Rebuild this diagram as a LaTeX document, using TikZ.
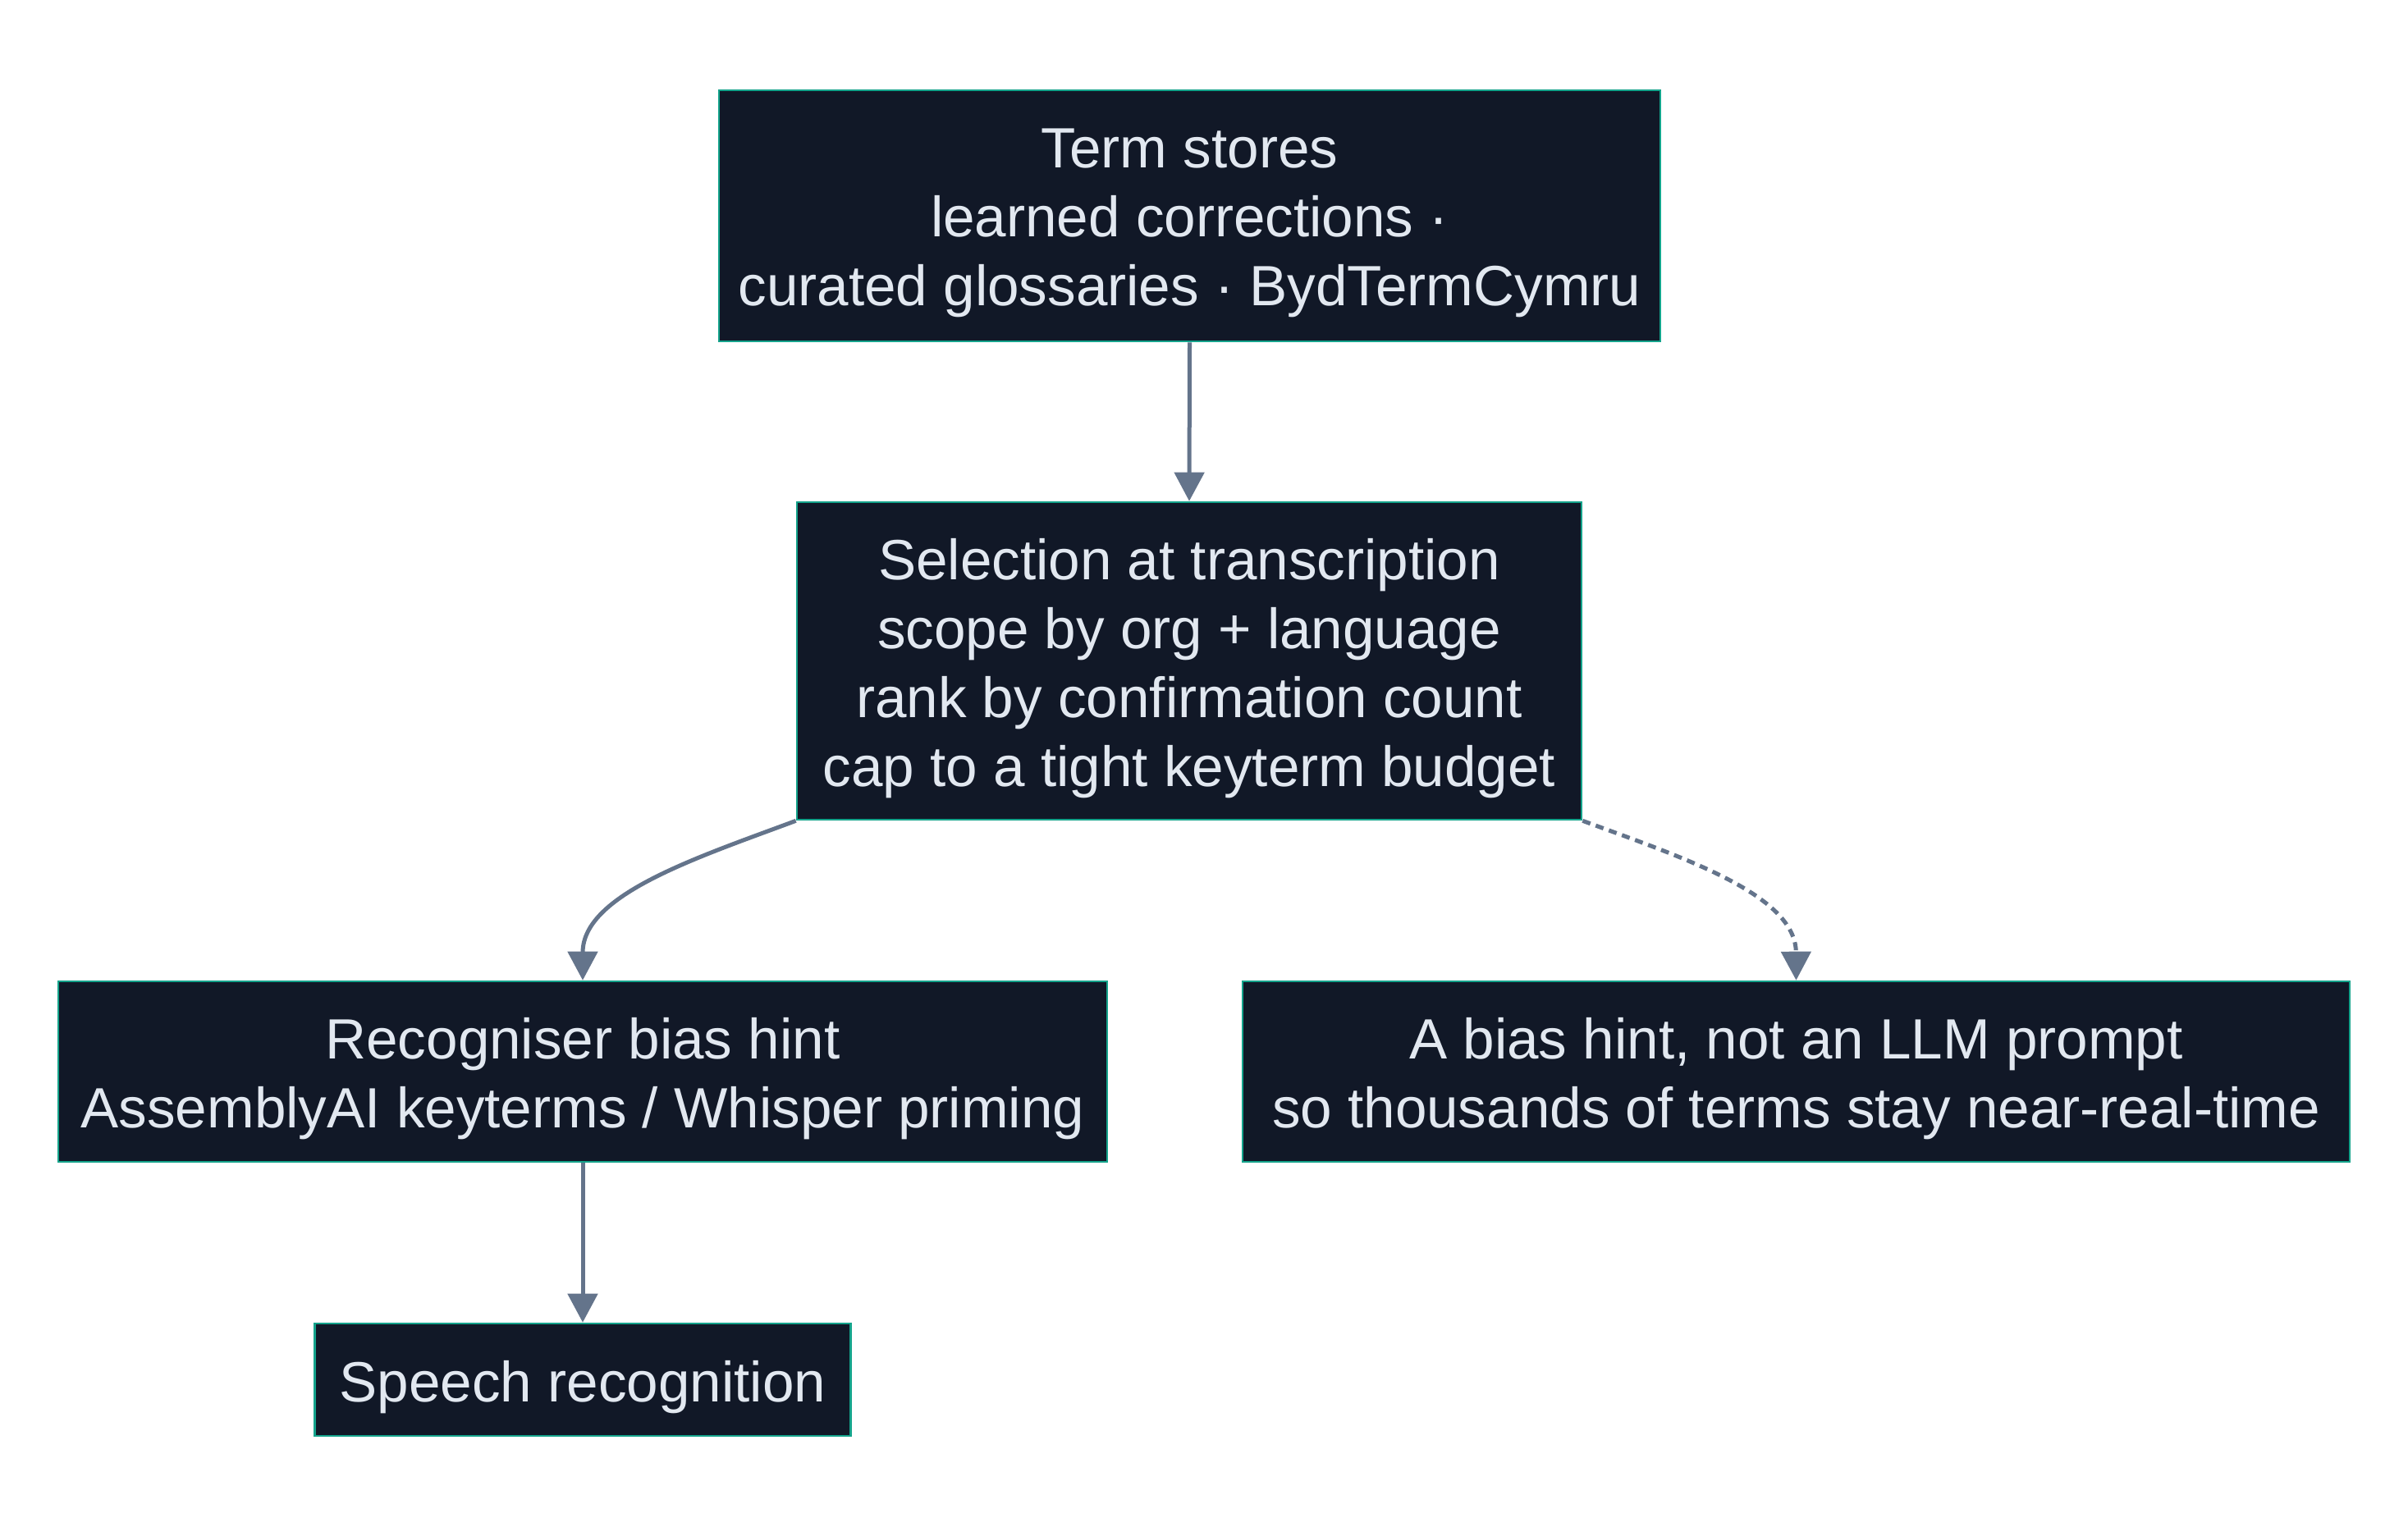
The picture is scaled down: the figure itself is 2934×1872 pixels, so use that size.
\documentclass[tikz,border=0pt]{standalone}
\usepackage{fontspec}
\setmainfont{Liberation Sans}
\usetikzlibrary{arrows.meta}
\definecolor{boxfill}{HTML}{111827}
\definecolor{boxline}{HTML}{14A38B}
\definecolor{boxtext}{HTML}{E2E8F0}
\definecolor{edgec}{HTML}{64748B}
\tikzset{
  box/.style={draw=boxline, line width=1.3pt, fill=boxfill, inner sep=0pt, rectangle},
  boxlbl/.style={text=boxtext, align=center, font=\fontsize{34.6}{42}\selectfont,
    inner sep=0pt, yshift=-4.5pt},
  edge/.style={draw=edgec, line width=2.5pt, -{Triangle[width=18pt,length=17.5pt]}},
  dedge/.style={edge, dash pattern=on 5pt off 3.5pt}
}
\begin{document}
\begin{tikzpicture}[x=0.5pt,y=-0.5pt]
\useasboundingbox[fill=white] (0,0) rectangle (2934,1872);
\node[box, minimum width=573.5pt, minimum height=153pt,
  label={[boxlbl]center:{Term stores\\learned corrections ·\\curated glossaries · BydTermCymru}}] (ts) at (1449.5,263) {};
\node[box, minimum width=478pt, minimum height=193.5pt,
  label={[boxlbl]center:{Selection at transcription\\scope by org + language\\rank by confirmation count\\cap to a tight keyterm budget}}] (sel) at (1449,805.5) {};
\node[box, minimum width=639pt, minimum height=110pt,
  label={[boxlbl]center:{Recogniser bias hint\\AssemblyAI keyterms / Whisper priming}}] (rb) at (710,1306) {};
\node[box, minimum width=674.5pt, minimum height=110pt,
  label={[boxlbl]center:{A bias hint, not an LLM prompt\\so thousands of terms stay near-real-time}}] (bh) at (2188.5,1306) {};
\node[box, minimum width=326.5pt, minimum height=68.5pt,
  label={[boxlbl]center:{Speech recognition}}] (sr) at (710,1681.5) {};
\draw[edge] (ts.south) -- (sel.north);
\draw[edge] (sel.south west) .. controls (850,1045) and (710,1090) .. (rb.north);
\draw[dedge] (sel.south east) .. controls (2050,1045) and (2188,1090) .. (bh.north);
\draw[edge] (rb.south) -- (sr.north);
\end{tikzpicture}
\end{document}
